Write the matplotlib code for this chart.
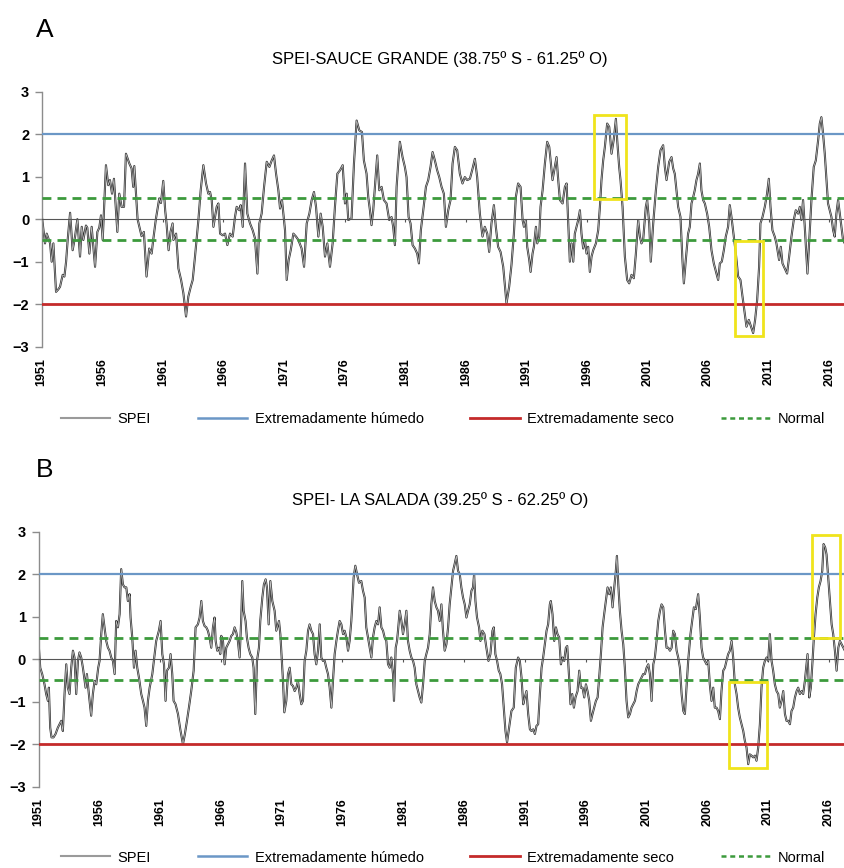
import matplotlib.pyplot as plt
from matplotlib.lines import Line2D
from matplotlib.patches import Rectangle

plt.rcParams['font.family'] = ['Liberation Sans', 'DejaVu Sans']

# SPEI series, Sauce Grande (decimal year, index value)
sg_year = [
    1951.00, 1951.27, 1951.41, 1951.69, 1951.82, 1951.96, 1952.18, 1952.37, 1952.51, 1952.73,
    1952.87, 1953.01, 1953.14, 1953.34, 1953.55, 1953.75, 1953.94, 1954.16, 1954.30, 1954.43,
    1954.65, 1954.76, 1954.93, 1955.12, 1955.40, 1955.59, 1955.75, 1955.89, 1956.03, 1956.30,
    1956.49, 1956.63, 1956.80, 1956.96, 1957.24, 1957.40, 1957.59, 1957.79, 1957.95, 1958.23,
    1958.42, 1958.55, 1958.64, 1958.91, 1959.24, 1959.43, 1959.65, 1959.87, 1960.07, 1960.20,
    1960.42, 1960.70, 1960.84, 1961.03, 1961.19, 1961.30, 1961.47, 1961.63, 1961.80, 1961.87,
    1962.09, 1962.28, 1962.50, 1962.69, 1962.91, 1963.10, 1963.30, 1963.46, 1963.65, 1963.93,
    1964.12, 1964.34, 1964.56, 1964.75, 1964.89, 1965.03, 1965.17, 1965.44, 1965.58, 1965.72,
    1965.94, 1966.13, 1966.32, 1966.54, 1966.76, 1966.95, 1967.09, 1967.31, 1967.42, 1967.59,
    1967.78, 1967.97, 1968.19, 1968.41, 1968.60, 1968.80, 1968.96, 1969.15, 1969.35, 1969.57,
    1969.79, 1969.98, 1970.17, 1970.34, 1970.53, 1970.67, 1970.83, 1971.08, 1971.22, 1971.38,
    1971.55, 1971.77, 1971.99, 1972.18, 1972.45, 1972.65, 1972.87, 1973.09, 1973.28, 1973.47,
    1973.64, 1973.83, 1974.02, 1974.19, 1974.38, 1974.57, 1974.79, 1975.01, 1975.20, 1975.40,
    1975.62, 1975.84, 1976.03, 1976.17, 1976.30, 1976.57, 1976.77, 1976.99, 1977.21, 1977.43,
    1977.59, 1977.81, 1977.95, 1978.09, 1978.22, 1978.36, 1978.50, 1978.69, 1978.86, 1979.05,
    1979.24, 1979.46, 1979.68, 1979.87, 1980.01, 1980.15, 1980.29, 1980.42, 1980.56, 1980.78,
    1980.97, 1981.11, 1981.28, 1981.44, 1981.61, 1981.80, 1981.99, 1982.13, 1982.29, 1982.49,
    1982.71, 1982.90, 1983.09, 1983.26, 1983.45, 1983.64, 1983.81, 1984.00, 1984.19, 1984.36,
    1984.55, 1984.74, 1984.91, 1985.10, 1985.29, 1985.51, 1985.73, 1985.92, 1986.12, 1986.34,
    1986.56, 1986.75, 1986.94, 1987.16, 1987.38, 1987.57, 1987.77, 1987.93, 1988.12, 1988.32,
    1988.48, 1988.67, 1988.87, 1989.09, 1989.36, 1989.58, 1989.77, 1989.97, 1990.13, 1990.32,
    1990.52, 1990.69, 1990.80, 1990.96, 1991.07, 1991.24, 1991.35, 1991.51, 1991.62, 1991.79,
    1991.90, 1992.06, 1992.17, 1992.34, 1992.53, 1992.72, 1992.89, 1993.00, 1993.16, 1993.35,
    1993.49, 1993.63, 1993.77, 1993.99, 1994.18, 1994.32, 1994.45, 1994.59, 1994.73, 1994.87,
    1995.00, 1995.14, 1995.28, 1995.42, 1995.55, 1995.69, 1995.83, 1995.97, 1996.10, 1996.24,
    1996.38, 1996.52, 1996.74, 1996.93, 1997.07, 1997.20, 1997.34, 1997.48, 1997.67, 1997.84,
    1998.03, 1998.22, 1998.39, 1998.50, 1998.66, 1998.77, 1998.94, 1999.13, 1999.32, 1999.49,
    1999.68, 1999.87, 2000.04, 2000.23, 2000.37, 2000.50, 2000.64, 2000.86, 2000.97, 2001.14,
    2001.27, 2001.47, 2001.69, 2001.88, 2002.07, 2002.29, 2002.43, 2002.57, 2002.79, 2002.98,
    2003.12, 2003.25, 2003.39, 2003.53, 2003.72, 2003.89, 2004.00, 2004.16, 2004.35, 2004.49,
    2004.63, 2004.77, 2004.90, 2005.04, 2005.18, 2005.32, 2005.45, 2005.59, 2005.73, 2005.92,
    2006.09, 2006.28, 2006.47, 2006.69, 2006.83, 2006.97, 2007.13, 2007.30, 2007.46, 2007.65,
    2007.79, 2007.93, 2008.12, 2008.29, 2008.48, 2008.67, 2008.84, 2009.03, 2009.17, 2009.36,
    2009.55, 2009.72, 2009.88, 2010.05, 2010.21, 2010.32, 2010.49, 2010.68, 2010.87, 2011.01,
    2011.15, 2011.31, 2011.50, 2011.64, 2011.86, 2012.00, 2012.14, 2012.33, 2012.52, 2012.69,
    2012.88, 2013.07, 2013.24, 2013.43, 2013.57, 2013.70, 2013.84, 2013.98, 2014.12, 2014.20,
    2014.39, 2014.53, 2014.72, 2014.89, 2015.08, 2015.22, 2015.35, 2015.49, 2015.63, 2015.77,
    2015.90, 2016.04, 2016.18, 2016.32, 2016.45, 2016.59, 2016.73, 2016.87, 2017.00, 2017.14,
    2017.28,
]
sg_spei = [
    0.09, -0.57, -0.34, -0.57, -1.00, -0.57, -1.71, -1.65, -1.59, -1.31,
    -1.35, -1.00, -0.49, 0.15, -0.73, -0.41, 0.00, -0.88, -0.18, -0.49,
    -0.15, -0.20, -0.81, -0.18, -1.12, -0.30, -0.20, 0.09, -0.49, 1.27,
    0.80, 0.92, 0.60, 0.95, -0.30, 0.60, 0.29, 0.29, 1.54, 1.31,
    1.19, 0.76, 1.25, 0.00, -0.40, -0.30, -1.35, -0.69, -0.81, -0.49,
    0.00, 0.49, 0.38, 0.90, 0.20, -0.10, -0.73, -0.30, -0.10, -0.49,
    -0.34, -1.16, -1.43, -1.74, -2.29, -1.82, -1.59, -1.43, -0.88, -0.02,
    0.68, 1.27, 0.84, 0.60, 0.64, 0.45, -0.18, 0.29, 0.37, -0.34,
    -0.38, -0.34, -0.61, -0.34, -0.41, 0.05, 0.29, 0.21, 0.33, -0.18,
    1.31, 0.13, -0.10, -0.26, -0.45, -1.28, -0.10, 0.13, 0.76, 1.35,
    1.23, 1.38, 1.50, 1.07, 0.68, 0.25, 0.45, -0.26, -1.43, -0.96,
    -0.73, -0.34, -0.41, -0.49, -0.69, -1.12, -0.10, 0.13, 0.45, 0.64,
    0.29, -0.41, 0.13, -0.18, -0.88, -0.57, -1.12, -0.57, 0.29, 1.07,
    1.15, 1.27, 0.37, 0.60, -0.02, 0.02, 1.31, 2.32, 2.09, 2.05,
    1.38, 1.07, 0.52, 0.21, -0.14, 0.21, 0.76, 1.50, 0.68, 0.76,
    0.45, 0.37, -0.02, 0.05, -0.18, -0.61, 0.76, 1.31, 1.82, 1.46,
    1.23, 0.99, 0.05, -0.10, -0.61, -0.69, -0.81, -1.04, -0.26, 0.21,
    0.76, 0.92, 1.23, 1.58, 1.38, 1.15, 0.99, 0.76, 0.60, -0.18,
    0.21, 0.45, 1.31, 1.70, 1.62, 1.07, 0.84, 0.99, 0.92, 0.95,
    1.19, 1.42, 0.99, 0.13, -0.41, -0.18, -0.34, -0.77, -0.10, 0.33,
    -0.18, -0.65, -0.77, -1.12, -1.98, -1.59, -1.08, -0.34, 0.52, 0.84,
    0.76, -0.02, -0.18, -0.02, -0.65, -0.96, -1.24, -0.81, -0.65, -0.18,
    -0.57, -0.41, 0.29, 0.68, 1.31, 1.82, 1.70, 1.38, 0.92, 1.23,
    1.46, 0.92, 0.45, 0.37, 0.76, 0.84, -0.02, -1.00, -0.57, -1.00,
    -0.34, -0.18, -0.02, 0.21, -0.34, -0.69, -0.49, -0.81, -0.65, -1.24,
    -0.88, -0.73, -0.57, -0.26, 0.29, 0.92, 1.38, 1.70, 2.25, 2.17,
    1.54, 1.89, 2.36, 1.85, 1.23, 0.92, 0.29, -0.88, -1.43, -1.51,
    -1.31, -1.39, -0.81, -0.02, -0.41, -0.57, -0.49, 0.29, 0.45, -0.10,
    -1.00, -0.10, 0.68, 1.23, 1.62, 1.74, 1.23, 0.92, 1.35, 1.46,
    1.19, 1.07, 0.68, 0.29, 0.05, -1.00, -1.51, -0.96, -0.34, -0.18,
    0.37, 0.52, 0.68, 0.92, 1.07, 1.31, 0.68, 0.45, 0.37, 0.13,
    -0.18, -0.73, -1.04, -1.28, -1.43, -1.04, -1.00, -0.73, -0.41, -0.18,
    0.33, 0.05, -0.41, -0.81, -1.35, -1.43, -1.82, -2.22, -2.53, -2.37,
    -2.53, -2.68, -2.37, -1.90, -1.12, -0.10, 0.05, 0.29, 0.60, 0.95,
    0.29, -0.26, -0.41, -0.57, -0.96, -0.65, -1.04, -1.16, -1.28, -0.88,
    -0.41, -0.02, 0.21, 0.13, 0.29, -0.02, 0.45, -0.18, -0.88, -1.28,
    -0.26, 0.45, 1.23, 1.38, 1.85, 2.25, 2.40, 2.01, 1.54, 0.92,
    0.37, 0.21, 0.05, -0.26, -0.41, 0.13, 0.45, 0.13, -0.18, -0.49,
    -0.57,
]

# SPEI series, La Salada (decimal year, index value)
ls_year = [
    1951.00, 1951.03, 1951.14, 1951.30, 1951.49, 1951.63, 1951.77, 1951.85, 1951.96, 1952.07,
    1952.23, 1952.40, 1952.59, 1952.73, 1952.87, 1953.00, 1953.14, 1953.28, 1953.41, 1953.55,
    1953.69, 1953.83, 1953.96, 1954.10, 1954.24, 1954.37, 1954.51, 1954.65, 1954.87, 1954.98,
    1955.14, 1955.33, 1955.47, 1955.61, 1955.75, 1955.91, 1956.02, 1956.16, 1956.29, 1956.43,
    1956.57, 1956.71, 1956.84, 1956.98, 1957.12, 1957.26, 1957.39, 1957.53, 1957.67, 1957.80,
    1957.94, 1958.08, 1958.22, 1958.35, 1958.49, 1958.57, 1958.71, 1958.85, 1958.98, 1959.12,
    1959.26, 1959.45, 1959.59, 1959.72, 1959.86, 1960.00, 1960.14, 1960.36, 1960.55, 1960.68,
    1960.90, 1961.04, 1961.18, 1961.32, 1961.45, 1961.56, 1961.73, 1961.86, 1962.00, 1962.11,
    1962.27, 1962.47, 1962.66, 1962.88, 1963.04, 1963.21, 1963.37, 1963.56, 1963.76, 1963.92,
    1964.11, 1964.25, 1964.39, 1964.52, 1964.66, 1964.80, 1964.93, 1965.07, 1965.21, 1965.35,
    1965.48, 1965.57, 1965.70, 1965.84, 1965.95, 1966.03, 1966.17, 1966.31, 1966.44, 1966.58,
    1966.72, 1966.86, 1966.99, 1967.13, 1967.27, 1967.40, 1967.54, 1967.68, 1967.76, 1967.87,
    1968.03, 1968.14, 1968.28, 1968.42, 1968.58, 1968.69, 1968.83, 1968.97, 1969.13, 1969.24,
    1969.41, 1969.54, 1969.68, 1969.79, 1969.93, 1970.07, 1970.23, 1970.42, 1970.56, 1970.78,
    1970.89, 1971.00, 1971.11, 1971.22, 1971.38, 1971.52, 1971.66, 1971.79, 1971.93, 1972.07,
    1972.21, 1972.34, 1972.48, 1972.62, 1972.75, 1972.89, 1973.03, 1973.17, 1973.30, 1973.44,
    1973.58, 1973.71, 1973.85, 1973.99, 1974.13, 1974.26, 1974.40, 1974.54, 1974.67, 1974.81,
    1974.95, 1975.09, 1975.22, 1975.36, 1975.50, 1975.63, 1975.77, 1975.91, 1976.05, 1976.18,
    1976.32, 1976.46, 1976.59, 1976.73, 1976.92, 1977.06, 1977.20, 1977.36, 1977.55, 1977.69,
    1977.83, 1977.96, 1978.10, 1978.24, 1978.38, 1978.51, 1978.65, 1978.79, 1978.93, 1979.06,
    1979.20, 1979.34, 1979.47, 1979.61, 1979.75, 1979.89, 1980.02, 1980.16, 1980.24, 1980.38,
    1980.49, 1980.57, 1980.71, 1980.85, 1980.98, 1981.12, 1981.26, 1981.39, 1981.53, 1981.67,
    1981.81, 1981.94, 1982.08, 1982.22, 1982.35, 1982.49, 1982.63, 1982.77, 1982.90, 1983.04,
    1983.18, 1983.31, 1983.45, 1983.59, 1983.73, 1983.86, 1984.00, 1984.14, 1984.27, 1984.41,
    1984.55, 1984.69, 1984.82, 1984.96, 1985.10, 1985.23, 1985.37, 1985.51, 1985.65, 1985.78,
    1985.92, 1986.06, 1986.20, 1986.33, 1986.47, 1986.61, 1986.74, 1986.83, 1986.94, 1987.07,
    1987.24, 1987.35, 1987.51, 1987.68, 1987.84, 1988.01, 1988.17, 1988.34, 1988.45, 1988.58,
    1988.72, 1988.86, 1988.99, 1989.13, 1989.27, 1989.41, 1989.54, 1989.71, 1989.90, 1990.09,
    1990.26, 1990.45, 1990.59, 1990.73, 1990.87, 1991.00, 1991.14, 1991.28, 1991.42, 1991.55,
    1991.69, 1991.83, 1991.96, 1992.10, 1992.24, 1992.38, 1992.51, 1992.65, 1992.79, 1992.92,
    1993.06, 1993.14, 1993.28, 1993.42, 1993.56, 1993.69, 1993.83, 1993.97, 1994.10, 1994.24,
    1994.38, 1994.49, 1994.63, 1994.76, 1994.90, 1995.04, 1995.17, 1995.34, 1995.48, 1995.61,
    1995.75, 1995.89, 1996.03, 1996.16, 1996.30, 1996.44, 1996.57, 1996.71, 1996.85, 1996.99,
    1997.12, 1997.26, 1997.40, 1997.53, 1997.67, 1997.81, 1997.95, 1998.08, 1998.22, 1998.36,
    1998.49, 1998.58, 1998.69, 1998.82, 1998.96, 1999.10, 1999.23, 1999.37, 1999.51, 1999.65,
    1999.78, 1999.92, 2000.06, 2000.20, 2000.33, 2000.47, 2000.61, 2000.74, 2000.88, 2001.02,
    2001.16, 2001.29, 2001.43, 2001.57, 2001.70, 2001.84, 2001.98, 2002.12, 2002.25, 2002.39,
    2002.53, 2002.66, 2002.80, 2002.94, 2003.08, 2003.21, 2003.35, 2003.49, 2003.62, 2003.76,
    2003.90, 2004.04, 2004.17, 2004.25, 2004.44, 2004.63, 2004.80, 2004.91, 2005.07, 2005.26,
    2005.40, 2005.54, 2005.67, 2005.81, 2005.95, 2006.09, 2006.22, 2006.36, 2006.50, 2006.63,
    2006.77, 2006.91, 2007.05, 2007.18, 2007.32, 2007.46, 2007.59, 2007.73, 2007.87, 2008.01,
    2008.14, 2008.28, 2008.42, 2008.55, 2008.69, 2008.83, 2008.97, 2009.10, 2009.24, 2009.38,
    2009.51, 2009.65, 2009.79, 2009.93, 2010.06, 2010.20, 2010.34, 2010.47, 2010.61, 2010.75,
    2010.89, 2011.02, 2011.16, 2011.30, 2011.43, 2011.57, 2011.71, 2011.85, 2011.98, 2012.12,
    2012.26, 2012.40, 2012.53, 2012.67, 2012.81, 2012.94, 2013.08, 2013.22, 2013.36, 2013.49,
    2013.63, 2013.77, 2013.90, 2014.04, 2014.18, 2014.26, 2014.40, 2014.53, 2014.67, 2014.78,
    2014.92, 2015.06, 2015.19, 2015.33, 2015.47, 2015.58, 2015.71, 2015.82, 2015.96, 2016.10,
    2016.24, 2016.37, 2016.51, 2016.65, 2016.79, 2016.92, 2017.06, 2017.20, 2017.33,
]
ls_spei = [
    0.67, 0.27, -0.20, -0.35, -0.59, -0.82, -0.98, -0.67, -1.61, -1.84,
    -1.84, -1.76, -1.61, -1.53, -1.45, -1.69, -0.82, -0.12, -0.67, -0.82,
    -0.20, 0.20, 0.04, -0.82, -0.04, 0.16, 0.04, -0.20, -0.67, -0.35,
    -0.82, -1.33, -0.82, -0.51, -0.59, -0.20, -0.04, 0.59, 1.06, 0.75,
    0.43, 0.27, 0.20, 0.04, -0.04, -0.35, 0.90, 0.75, 1.06, 2.12,
    1.76, 1.69, 1.69, 1.37, 1.53, 0.98, 0.51, -0.20, 0.20, -0.20,
    -0.43, -0.82, -0.98, -1.14, -1.57, -0.98, -0.67, -0.35, 0.12, 0.43,
    0.67, 0.90, 0.12, -0.12, -0.98, -0.27, -0.20, 0.12, -0.35, -0.98,
    -1.06, -1.29, -1.65, -2.00, -1.76, -1.45, -1.14, -0.75, -0.27, 0.75,
    0.82, 0.98, 1.37, 0.90, 0.78, 0.75, 0.67, 0.51, 0.27, 0.75,
    0.98, 0.43, 0.20, 0.27, 0.12, 0.55, 0.43, -0.12, 0.27, 0.35,
    0.43, 0.55, 0.59, 0.75, 0.63, 0.43, 0.04, 0.98, 1.84, 1.14,
    0.90, 0.51, 0.27, 0.12, 0.04, -0.20, -1.29, -0.04, 0.27, 0.90,
    1.45, 1.76, 1.88, 1.69, 0.82, 1.84, 1.37, 1.14, 0.67, 0.90,
    0.59, 0.04, -0.51, -1.25, -0.98, -0.35, -0.20, -0.59, -0.63, -0.75,
    -0.67, -0.51, -0.82, -1.06, -0.98, -0.04, 0.20, 0.67, 0.82, 0.67,
    0.59, 0.12, -0.12, 0.20, 0.82, 0.04, -0.04, -0.04, -0.20, -0.35,
    -0.67, -1.14, -0.51, 0.12, 0.43, 0.67, 0.90, 0.82, 0.59, 0.67,
    0.51, 0.20, 0.43, 0.90, 1.92, 2.20, 2.00, 1.80, 1.84, 1.61,
    1.45, 0.75, 0.51, 0.27, 0.04, 0.51, 0.75, 0.90, 0.82, 1.22,
    0.75, 0.67, 0.51, 0.43, -0.12, -0.20, 0.04, -0.35, -0.98, 0.27,
    0.43, 0.67, 1.14, 0.90, 0.59, 0.82, 1.14, 0.43, 0.20, 0.04,
    -0.04, -0.20, -0.59, -0.75, -0.90, -1.02, -0.59, -0.04, 0.12, 0.27,
    0.59, 1.29, 1.69, 1.37, 1.22, 1.14, 0.90, 1.29, 0.67, 0.20,
    0.35, 0.75, 1.29, 1.69, 2.08, 2.24, 2.43, 2.08, 2.00, 1.69,
    1.45, 1.29, 0.98, 1.14, 1.29, 1.61, 1.69, 2.00, 1.37, 0.98,
    0.75, 0.43, 0.67, 0.59, 0.27, -0.04, 0.12, 0.67, 0.75, 0.12,
    -0.04, -0.27, -0.35, -0.59, -1.14, -1.69, -1.96, -1.61, -1.22, -1.14,
    -0.20, 0.04, -0.04, -0.43, -1.06, -0.90, -0.75, -1.29, -1.65, -1.69,
    -1.65, -1.76, -1.57, -1.53, -0.82, -0.20, 0.04, 0.35, 0.67, 0.82,
    1.29, 1.37, 1.06, 0.43, 0.75, 0.59, 0.51, -0.12, 0.04, -0.04,
    0.27, 0.31, -0.35, -1.06, -0.82, -1.14, -0.90, -0.75, -0.27, -0.67,
    -0.67, -0.90, -0.59, -0.75, -0.98, -1.45, -1.29, -1.14, -0.98, -0.90,
    -0.43, 0.12, 0.75, 1.06, 1.37, 1.69, 1.53, 1.69, 1.22, 1.69,
    2.08, 2.43, 1.76, 1.14, 0.67, 0.35, -0.20, -0.98, -1.37, -1.29,
    -1.14, -1.06, -0.98, -0.75, -0.59, -0.51, -0.43, -0.35, -0.35, -0.20,
    -0.12, -0.35, -0.98, -0.12, 0.04, 0.43, 0.90, 1.14, 1.29, 1.22,
    0.67, 0.27, 0.27, 0.20, 0.27, 0.67, 0.59, 0.20, 0.04, -0.20,
    -0.82, -1.22, -1.29, -0.90, -0.04, 0.59, 0.98, 1.22, 1.18, 1.53,
    0.98, 0.27, 0.04, -0.04, -0.12, -0.04, -0.59, -0.98, -0.67, -1.14,
    -1.14, -1.22, -1.41, -0.75, -0.27, -0.20, -0.04, 0.12, 0.20, 0.43,
    0.04, -0.59, -0.82, -1.14, -1.37, -1.53, -1.69, -1.92, -2.08, -2.47,
    -2.24, -2.27, -2.31, -2.27, -2.39, -2.08, -1.53, -0.67, -0.20, -0.04,
    0.04, -0.04, 0.59, -0.04, -0.27, -0.59, -0.75, -0.82, -1.14, -0.98,
    -0.75, -1.29, -1.45, -1.45, -1.53, -1.22, -1.14, -0.90, -0.75, -0.67,
    -0.82, -0.75, -0.82, -0.51, -0.12, 0.12, -0.90, -0.67, -0.04, 0.51,
    1.06, 1.45, 1.69, 1.84, 2.08, 2.71, 2.63, 2.47, 1.92, 1.37,
    0.82, 0.59, 0.20, -0.27, 0.27, 0.43, 0.35, 0.27, 0.20,
]

# Threshold levels
wet_level = 2.0
dry_level = -2.0
normal_band = [-0.5, 0.5]

# Highlighted extreme episodes: (year start, year end, spei low, spei high)
sg_boxes = [(1996.57, 1999.21, 0.47, 2.46), (2008.20, 2010.54, -2.76, -0.52)]
ls_boxes = [(2007.81, 2010.89, -2.56, -0.53), (2014.59, 2016.92, 0.49, 2.92)]

year_ticks = list(range(1951, 2017, 5))
spei_ticks = [-3, -2, -1, 0, 1, 2, 3]

c_spei_dark = '#303030'
c_spei_light = '#c4c4c4'
c_wet = '#6b97c6'
c_dry = '#c42a2a'
c_normal = '#3c9a3c'
c_box = '#f0e41c'


def draw_panel(ax, years, spei, boxes, x_end):
    ax.plot(years, spei, color=c_spei_dark, lw=1.5, zorder=2, solid_joinstyle='round')
    ax.plot(years, spei, color=c_spei_light, lw=0.5, zorder=2.1)
    ax.axhline(wet_level, color=c_wet, lw=1.6, zorder=3)
    ax.axhline(dry_level, color=c_dry, lw=2.0, zorder=3)
    for lvl in normal_band:
        ax.axhline(lvl, color=c_normal, lw=2.0, ls=(0, (3.2, 2.2)), zorder=3)
    for x0, x1, y0, y1 in boxes:
        ax.add_patch(Rectangle((x0, y0), x1 - x0, y1 - y0, fill=False,
                               edgecolor=c_box, lw=2.0, zorder=4))

    ax.set_xlim(1951, x_end)
    ax.set_ylim(-3, 3)
    for s in ['top', 'right']:
        ax.spines[s].set_visible(False)
    ax.spines['left'].set_color('#8c8c8c')
    ax.spines['left'].set_linewidth(1.0)
    ax.set_yticks(spei_ticks)
    ax.tick_params(axis='y', direction='out', length=5, width=1.0, color='#8c8c8c',
                   labelsize=10.5, pad=4)
    for lab in ax.get_yticklabels():
        lab.set_fontweight('bold')

    # x axis crossing at zero with small ticks
    ax.spines['bottom'].set_position(('data', 0))
    ax.spines['bottom'].set_color('#555555')
    ax.spines['bottom'].set_linewidth(0.8)
    ax.set_xticks(year_ticks)
    ax.tick_params(axis='x', direction='out', length=2, width=0.8, color='#555555',
                   labelbottom=False)

    # year labels sit below the plot area
    sec = ax.secondary_xaxis('bottom')
    sec.set_xticks(year_ticks)
    sec.spines['bottom'].set_visible(False)
    sec.tick_params(length=0, pad=8, labelsize=9, labelrotation=90)
    for lab in sec.get_xticklabels():
        lab.set_fontweight('bold')


fig = plt.figure(figsize=(8.45, 8.68), dpi=100)

ax_a = fig.add_axes([0.0494, 0.6006, 0.9506, 0.2938])
draw_panel(ax_a, sg_year, sg_spei, sg_boxes, 2017.3)

ax_b = fig.add_axes([0.0456, 0.0937, 0.9544, 0.2937])
draw_panel(ax_b, ls_year, ls_spei, ls_boxes, 2017.34)

fig.text(0.043, 0.966, 'A', fontsize=19, va='center', ha='left')
fig.text(0.521, 0.932, 'SPEI-SAUCE GRANDE (38.75º S - 61.25º O)', fontsize=12,
         ha='center', va='center')
fig.text(0.043, 0.459, 'B', fontsize=19, va='center', ha='left')
fig.text(0.521, 0.424, 'SPEI- LA SALADA (39.25º S - 62.25º O)', fontsize=12,
         ha='center', va='center')

handles = [
    Line2D([], [], color='#9a9a9a', lw=1.5),
    Line2D([], [], color=c_wet, lw=1.8),
    Line2D([], [], color=c_dry, lw=2.0),
    Line2D([], [], color=c_normal, lw=1.8, ls=(0, (2, 1.5))),
]
labels = ['SPEI', 'Extremadamente húmedo', 'Extremadamente seco', 'Normal']
for y in [0.517, 0.012]:
    fig.legend(handles, labels, loc='center', bbox_to_anchor=(0.524, y),
               ncol=4, frameon=False, fontsize=10.5, handlelength=3.4,
               handletextpad=0.5, columnspacing=3.2)

fig.savefig('out.png', dpi=100)
